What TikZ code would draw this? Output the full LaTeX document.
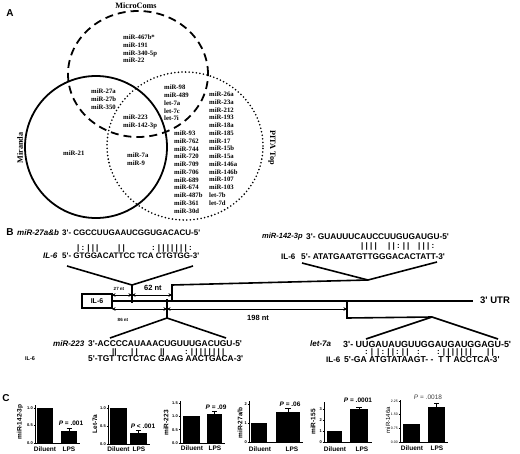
\documentclass[tikz,border=0pt]{standalone}
\usepackage{fontspec}
\setmainfont{Liberation Serif}
\newfontfamily\arial{Liberation Sans}
\usetikzlibrary{arrows.meta}
\begin{document}
\begin{tikzpicture}[x=1pt,y=-1pt,
  lbl/.style={font=\arial\bfseries\fontsize{10}{12}\selectfont, inner sep=0pt},
  vlist/.style={anchor=north west, align=left, inner sep=0pt, font=\bfseries\fontsize{6.7}{7.75}\selectfont},
  vname/.style={inner sep=0pt, font=\bfseries\fontsize{8.2}{10}\selectfont},
  seq/.style={anchor=west, inner sep=0pt, font=\arial\bfseries\fontsize{8}{9.6}\selectfont},
  seqname/.style={anchor=west, inner sep=0pt, font=\arial\bfseries\itshape\fontsize{8}{9.6}\selectfont},
  gene/.style={line width=1.6pt},
  dimarrow/.style={{Stealth[length=3.5pt,width=3.5pt]}-{Stealth[length=3.5pt,width=3.5pt]}, line width=0.9pt},
  ax/.style={line width=0.6pt},
  tk/.style={font=\arial\bfseries\fontsize{4}{5}\selectfont, inner sep=0.5pt, anchor=east},
  ylab/.style={font=\arial\bfseries\fontsize{6.5}{8}\selectfont, rotate=90, inner sep=0pt},
  xlab/.style={font=\arial\bfseries\fontsize{6.5}{7}\selectfont, inner sep=0pt},
  pval/.style={font=\arial\bfseries\fontsize{6.5}{8}\selectfont, inner sep=0pt},
  ntsmall/.style={font=\arial\bfseries\fontsize{4.5}{5}\selectfont, inner sep=0pt},
  ntbig/.style={font=\arial\bfseries\fontsize{7.5}{8}\selectfont, inner sep=0pt},
]
\useasboundingbox (0,0) rectangle (520,453);

% ---------------- Panel A: Venn ----------------
\node[lbl] (A) at (10,13) {A};
\draw[line width=1.8pt, dash pattern=on 8pt off 5pt] (138,74) ellipse [x radius=70pt, y radius=63pt];
\draw[line width=1.8pt] (96,147) circle [radius=71pt];
\draw[line width=1.8pt, line cap=round, dash pattern=on 0pt off 3.6pt] (185,146) ellipse [x radius=78pt, y radius=74pt];

\node[vname] (mc) at (136,6) {MicroComs};
\node[vname, rotate=90] (mir) at (20,148) {Miranda};
\node[vname, rotate=-90] (pita) at (272,148) {PITA Top};

\node[vlist] (l1) at (123,34.8) {miR-467b*\\miR-191\\miR-340-5p\\miR-22};
\node[vlist] (l2) at (91,88.8) {miR-27a\\miR-27b\\miR-350};
\node[vlist] (l3) at (123,114.8) {miR-223\\miR-142-3p};
\node[vlist] (l4) at (164,85) {miR-98\\miR-489\\let-7a\\let-7c\\let-7i};
\node[vlist] (l5) at (63,150.8) {miR-21};
\node[vlist] (l6) at (127,152.8) {miR-7a\\miR-9};
\node[vlist] (l7) at (174,130.8) {miR-93\\miR-762\\miR-744\\miR-720\\miR-709\\miR-706\\miR-689\\miR-674\\miR-487b\\miR-361\\miR-30d};
\node[vlist] (l8) at (209,91.8) {miR-26a\\miR-23a\\miR-212\\miR-193\\miR-18a\\miR-185\\miR-17\\miR-15b\\miR-15a\\miR-146a\\miR-146b\\miR-107\\miR-103\\let-7b\\let-7d};

% ---------------- Panel B ----------------
\node[lbl] (B) at (10,232) {B};

% miR-27a&b
\node[seqname] (n27) at (17,233) {miR-27a\&b};
\node[seq] (s27) at (62,233) {3'- CGCCUUGAAUCGGUGACACU-5'};
\node[seq] (m27a) at (77,248) {| : | | |};
\node[seq] (m27b) at (118,248) {| |};
\node[seq] (m27c) at (152,248) {: | | | | | | | :};
\node[seqname] (i27) at (43,256) {IL-6};
\node[seq] (t27) at (62,256) {5'- GTGGACATTCC TCA CTGTGG-3'};

% miR-142-3p
\node[seqname, font=\arial\bfseries\itshape\fontsize{7.5}{9.6}\selectfont] (n142) at (262,237) {miR-142-3p};
\node[seq, font=\arial\bfseries\fontsize{8.3}{9.6}\selectfont] (s142) at (306,237) {3'- GUAUUUCAUCCUUGUGAUGU-5'};
\node[seq] (m142a) at (361,246) {| | | |};
\node[seq] (m142b) at (388,246) {| | : | |};
\node[seq] (m142c) at (418,246) {| | | :};
\node[seq] (i142) at (281,257) {IL-6};
\node[seq, font=\arial\bfseries\fontsize{8.3}{9.6}\selectfont] (t142) at (301,257) {5'- ATATGAATGTTGGGACACTATT-3'};

% miR-223
\node[seqname] (n223) at (53,344) {miR-223};
\node[seq, font=\arial\bfseries\fontsize{8.4}{9.6}\selectfont] (s223) at (88,344) {3'-ACCCCAUAAACUGUUUGACUGU-5'};
\node[seq] (m223a) at (112,352) {||};
\node[seq] (m223b) at (131,352) {| |};
\node[seq] (m223c) at (160,352) {||};
\node[seq] (m223d) at (185,352) {: | | | | | | | |};
\node[seq, font=\arial\bfseries\fontsize{5.5}{6}\selectfont] (i223) at (25,359) {IL-6};
\node[seq, font=\arial\bfseries\fontsize{8.4}{9.6}\selectfont] (t223) at (88,359) {5'-TGT TCTCTAC GAAG AACTGACA-3'};

% let-7a
\node[seqname] (n7a) at (310,344) {let-7a};
\node[seq, font=\arial\bfseries\fontsize{8.9}{9.6}\selectfont] (s7a) at (343,344) {3'- UUGAUAUGUUGGAUGAUGGAGU-5'};
\node[seq] (m7aa) at (365,352) {: |};
\node[seq] (m7ab) at (377,352) {| : | | : | |};
\node[seq] (m7ac) at (417,352) {:};
\node[seq] (m7ad) at (437,352) {: | | | | | | |};
\node[seq] (m7ae) at (487,352) {| |};
\node[seq] (i7a) at (326,360) {IL-6};
\node[seq, font=\arial\bfseries\fontsize{8.6}{9.6}\selectfont] (t7a) at (344,360) {5'-GA ATGTATAAGT- -\ \ T T ACCTCA-3'};

% gene map
\node[draw, line width=1.4pt, minimum width=30pt, minimum height=14pt, inner sep=0pt,
      font=\arial\bfseries\fontsize{7}{8}\selectfont] (il6) at (97,301) {IL-6};
\node[anchor=west, inner sep=0pt, font=\arial\bfseries\fontsize{9.5}{10}\selectfont] (utr) at (480,300) {3' UTR};
\coordinate (gend) at (473,301);
\draw[gene] (il6.east) -- (gend);

\coordinate (t1) at (132,285); \coordinate (t1b) at (132,303);
\draw[gene] (t1) -- (t1b);
\coordinate (p27a) at (67,266); \coordinate (p27b) at (193,266);
\draw[gene] (p27a) -- (t1) -- (p27b);

\coordinate (b1) at (172,301); \coordinate (b2) at (172,285); \coordinate (c142) at (368,280);
\draw[gene] (b1) -- (b2) -- (c142);
\coordinate (p142a) at (302,263); \coordinate (p142b) at (437,262);
\draw[gene] (p142a) -- (c142) -- (p142b);

\coordinate (t2) at (167,299); \coordinate (t2b) at (167,318);
\draw[gene] (t2) -- (t2b);
\coordinate (p223a) at (110,338); \coordinate (p223b) at (226,338);
\draw[gene] (p223a) -- (t2b) -- (p223b);

\coordinate (b3) at (347,301); \coordinate (b4) at (347,318); \coordinate (c7a) at (432,317);
\draw[gene] (b3) -- (b4) -- (c7a);
\coordinate (p7a1) at (366,339); \coordinate (p7a2) at (498,339);
\draw[gene] (p7a1) -- (c7a) -- (p7a2);

\coordinate (a0) at (112,295); \coordinate (a1) at (132,295); \coordinate (a2) at (172,295);
\draw[dimarrow] (a0) -- (a1);
\draw[dimarrow] (a1) -- (a2);
\coordinate (d0) at (112,309); \coordinate (d1) at (167,309); \coordinate (d2) at (347,309);
\draw[dimarrow] (d0) -- (d1);
\draw[dimarrow] (d1) -- (d2);
\node[ntsmall] (nt27) at (119,289) {27 nt};
\node[ntbig] (nt62) at (153,288) {62 nt};
\node[ntsmall] (nt86) at (123,320) {86 nt};
\node[ntbig] (nt198) at (258,318) {198 nt};

% ---------------- Panel C ----------------
\node[lbl] (C) at (6,398) {C};

% chart 1
\draw[ax] (35,405) -- (35,443) -- (80,443);
\foreach \y/\t [count=\i] in {443/0.0, 425.5/0.5, 408/1.0} {\draw[ax] (33.5,\y) -- (35,\y); \node[tk] (ta\i) at (33.5,\y) {\t};}
\fill (37,443) rectangle (53,408);
\fill (61,443) rectangle (77,431);
\draw[ax] (69,431) -- (69,428.5) (66.5,428.5) -- (71.5,428.5);
\node[pval] (p1) at (71,423) {\textit{P} = .001};
\node[ylab] (y1) at (20,422) {miR-142-3p};
\node[xlab] (x1d) at (45,449) {Diluent};
\node[xlab] (x1l) at (69,449) {LPS};

% chart 2
\draw[ax] (108,405) -- (108,444) -- (150,444);
\foreach \y/\t [count=\i] in {444/0.0, 426/0.5, 408/1.0} {\draw[ax] (106.5,\y) -- (108,\y); \node[tk] (tb\i) at (106.5,\y) {\t};}
\fill (110,444) rectangle (127,408);
\fill (130,444) rectangle (147,433);
\draw[ax] (138.5,433) -- (138.5,430.5) (136,430.5) -- (141,430.5);
\node[pval] (p2) at (143,426) {\textit{P} < .001};
\node[ylab] (y2) at (95,424) {Let-7a};
\node[xlab] (x2d) at (118.5,449) {Diluent};
\node[xlab] (x2l) at (139,449) {LPS};

% chart 3
\draw[ax] (180,401) -- (180,443) -- (225,443);
\foreach \y/\t [count=\i] in {443/0.0, 429.7/0.5, 416.3/1.0, 403/1.5} {\draw[ax] (178.5,\y) -- (180,\y); \node[tk] (tc\i) at (178.5,\y) {\t};}
\fill (183,443) rectangle (200,416.3);
\fill (207,443) rectangle (222,413.5);
\draw[ax] (214.5,413.5) -- (214.5,411.5) (212,411.5) -- (217,411.5);
\node[pval] (p3) at (216,407) {\textit{P} = .09};
\node[ylab] (y3) at (166,423) {miR-223};
\node[xlab] (x3d) at (192,448) {Diluent};
\node[xlab] (x3l) at (215,448) {LPS};

% chart 4
\draw[ax] (249,401) -- (249,442) -- (303,442);
\foreach \y/\t [count=\i] in {442/0, 423/1, 404/2} {\draw[ax] (247.5,\y) -- (249,\y); \node[tk] (td\i) at (247.5,\y) {\t};}
\fill (251,442) rectangle (267,423);
\fill (276,442) rectangle (300,412);
\draw[ax] (288,412) -- (288,408.5) (285,408.5) -- (291,408.5);
\node[pval] (p4) at (290,404) {\textit{P} = .06};
\node[ylab] (y4) at (240,423) {miR-27a/b};
\node[xlab] (x4d) at (260,449) {Diluent};
\node[xlab] (x4l) at (292,449) {LPS};

% chart 5
\draw[ax] (324,402) -- (324,442) -- (372,442);
\foreach \y/\t [count=\i] in {442/0, 431/1, 420/2, 409/3} {\draw[ax] (322.5,\y) -- (324,\y); \node[tk] (te\i) at (322.5,\y) {\t};}
\fill (327,442) rectangle (342,431);
\fill (350,442) rectangle (368,408.5);
\draw[ax] (359,408.5) -- (359,407) (356,407) -- (362,407);
\node[pval] (p5) at (358,400) {\textit{P} = .0001};
\node[ylab] (y5) at (313,422) {miR-155};
\node[xlab] (x5d) at (335,449) {Diluent};
\node[xlab] (x5l) at (362,449) {LPS};

% chart 6
\draw[ax] (400,400) -- (400,442) -- (448,442);
\foreach \y/\t [count=\i] in {442/0.00, 428.3/0.75, 414.7/1.50, 401/2.25} {\draw[ax] (398.5,\y) -- (400,\y); \node[tk, font=\arial\fontsize{3.5}{4}\selectfont] (tf\i) at (398.5,\y) {\t};}
\fill (403,442) rectangle (420,424);
\fill (428,442) rectangle (445,407);
\draw[ax] (436.5,407) -- (436.5,403) (434,403) -- (439,403);
\node[pval, font=\arial\fontsize{6.5}{8}\selectfont, text=black!75] (p6) at (428,397) {\textit{P} = .0018};
\node[ylab, font=\arial\fontsize{6}{8}\selectfont] (y6) at (388,420) {miR-146a};
\node[xlab] (x6d) at (412,448) {Diluent};
\node[xlab] (x6l) at (437,448) {LPS};

\end{tikzpicture}
\end{document}
